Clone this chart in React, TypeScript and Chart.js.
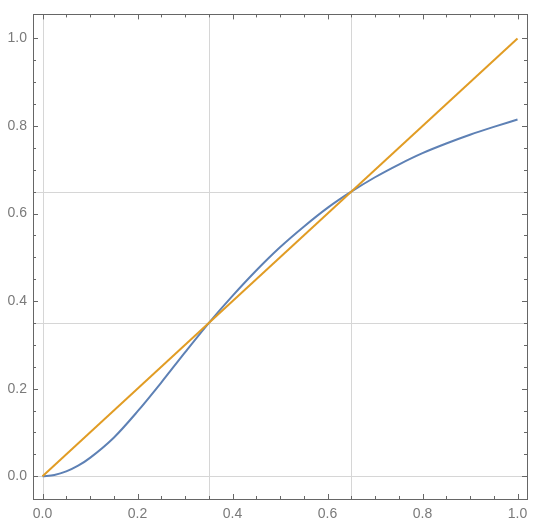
import React, { useEffect, useRef } from "react";
import { Chart, registerables } from "chart.js";

Chart.register(...registerables);

// Blue curve
const curveX = [0, 0.025, 0.05, 0.075, 0.1, 0.15, 0.2, 0.25, 0.3, 0.35, 0.4, 0.45, 0.5, 0.55, 0.6, 0.65, 0.7, 0.75, 0.8, 0.85, 0.9, 0.95, 1.0];
const curveY = [0, 0.003, 0.011, 0.024, 0.042, 0.088, 0.148, 0.214, 0.283, 0.35, 0.412, 0.470, 0.523, 0.570, 0.613, 0.65, 0.683, 0.712, 0.738, 0.760, 0.780, 0.798, 0.815];

// Orange diagonal
const lineX = [0, 1];
const lineY = [0, 1];

// Axes / ticks / grid
const majorTicks = [0, 0.2, 0.4, 0.6, 0.8, 1.0];
const minorTicks = [0.05, 0.1, 0.15, 0.25, 0.3, 0.35, 0.45, 0.5, 0.55, 0.65, 0.7, 0.75, 0.85, 0.9, 0.95];
const gridValues = [0, 0.35, 0.65];
const xRange = [-0.02, 1.02];
const yRange = [-0.052, 1.055];

const BLUE = "#5E81B5";
const ORANGE = "#E19C24";
const FRAME = "#666666";
const GRID = "#d6d6d6";
const LABEL = "#7a7a7a";

const framePlugin = {
  id: "mmaFrame",
  beforeDatasetsDraw(chart: any) {
    const { ctx, chartArea: a, scales } = chart;
    const x = scales.x;
    const y = scales.y;
    ctx.save();
    ctx.strokeStyle = GRID;
    ctx.lineWidth = 1;
    gridValues.forEach((v) => {
      const px = Math.round(x.getPixelForValue(v)) + 0.5;
      ctx.beginPath();
      ctx.moveTo(px, a.top);
      ctx.lineTo(px, a.bottom);
      ctx.stroke();
      const py = Math.round(y.getPixelForValue(v)) + 0.5;
      ctx.beginPath();
      ctx.moveTo(a.left, py);
      ctx.lineTo(a.right, py);
      ctx.stroke();
    });
    ctx.restore();
  },
  afterDraw(chart: any) {
    const { ctx, chartArea: a, scales } = chart;
    const x = scales.x;
    const y = scales.y;
    ctx.save();
    ctx.strokeStyle = FRAME;
    ctx.lineWidth = 1;
    ctx.strokeRect(Math.round(a.left) + 0.5, Math.round(a.top) + 0.5, Math.round(a.right - a.left), Math.round(a.bottom - a.top));
    const drawTicks = (vals: number[], len: number) => {
      vals.forEach((v) => {
        const px = Math.round(x.getPixelForValue(v)) + 0.5;
        ctx.beginPath();
        ctx.moveTo(px, a.bottom);
        ctx.lineTo(px, a.bottom - len);
        ctx.moveTo(px, a.top);
        ctx.lineTo(px, a.top + len);
        ctx.stroke();
        const py = Math.round(y.getPixelForValue(v)) + 0.5;
        ctx.beginPath();
        ctx.moveTo(a.left, py);
        ctx.lineTo(a.left + len, py);
        ctx.moveTo(a.right, py);
        ctx.lineTo(a.right - len, py);
        ctx.stroke();
      });
    };
    drawTicks(majorTicks, 5);
    drawTicks(minorTicks, 3);
    ctx.restore();
  },
};

export default function App() {
  const ref = useRef<HTMLCanvasElement | null>(null);

  useEffect(() => {
    if (!ref.current) return;
    const tickFont = { family: "'Liberation Sans', Arial, sans-serif", size: 14 };
    const chart = new Chart(ref.current, {
      type: "line",
      data: {
        datasets: [
          {
            label: "line",
            data: lineX.map((v, i) => ({ x: v, y: lineY[i] })),
            borderColor: ORANGE,
            borderWidth: 2,
            pointRadius: 0,
            order: 0,
          },
          {
            label: "curve",
            data: curveX.map((v, i) => ({ x: v, y: curveY[i] })),
            borderColor: BLUE,
            borderWidth: 2,
            pointRadius: 0,
            cubicInterpolationMode: "monotone",
            order: 1,
          },
        ],
      },
      options: {
        animation: false,
        responsive: false,
        layout: { padding: { top: 5, right: 13, left: 0, bottom: 0 } },
        plugins: { legend: { display: false }, tooltip: { enabled: false } },
        scales: {
          x: {
            type: "linear",
            min: xRange[0],
            max: xRange[1],
            grid: { display: false, drawTicks: false },
            border: { display: false },
            afterBuildTicks: (s: any) => {
              s.ticks = majorTicks.map((v) => ({ value: v }));
            },
            afterFit: (s: any) => {
              s.height = 26;
            },
            ticks: {
              autoSkip: false,
              maxRotation: 0,
              padding: 7,
              color: LABEL,
              font: tickFont,
              callback: (v: any) => Number(v).toFixed(1),
            },
          },
          y: {
            type: "linear",
            min: yRange[0],
            max: yRange[1],
            grid: { display: false, drawTicks: false },
            border: { display: false },
            afterBuildTicks: (s: any) => {
              s.ticks = majorTicks.map((v) => ({ value: v }));
            },
            afterFit: (s: any) => {
              s.width = 33;
            },
            ticks: {
              autoSkip: false,
              padding: 6,
              color: LABEL,
              font: tickFont,
              callback: (v: any) => Number(v).toFixed(1),
            },
          },
        },
      },
      plugins: [framePlugin],
    } as any);
    return () => chart.destroy();
  }, []);

  return (
    <div style={{ position: "fixed", left: 0, top: 0, width: 540, height: 525, background: "#fff" }}>
      <canvas ref={ref} width={540} height={525} />
    </div>
  );
}
